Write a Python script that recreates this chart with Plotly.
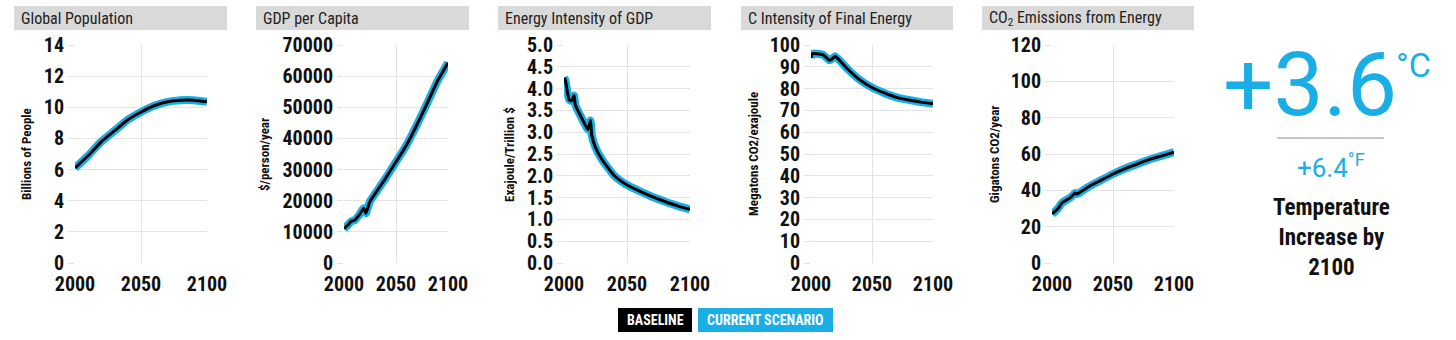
import plotly.graph_objects as go

# ---------------- data ----------------
pop_years = [2000, 2010, 2020, 2030, 2040, 2050, 2060, 2070, 2080, 2090, 2100]
pop_baseline = [6.1, 6.9, 7.8, 8.5, 9.2, 9.7, 10.1, 10.35, 10.45, 10.45, 10.35]
pop_current = [6.1, 6.9, 7.8, 8.5, 9.2, 9.7, 10.1, 10.35, 10.45, 10.45, 10.35]

gdp_years = [2000, 2004, 2007, 2010, 2015, 2019, 2021, 2025, 2030, 2040, 2050, 2060, 2070, 2080, 2090, 2100]
gdp_baseline = [11000, 12300, 13400, 13700, 15600, 17600, 16000, 19800, 22300, 27200, 32500, 37800, 44300, 51300, 58500, 64300]
gdp_current = [11000, 12300, 13400, 13700, 15600, 17600, 16000, 19800, 22300, 27200, 32500, 37800, 44300, 51300, 58500, 64300]

ei_years = [2000, 2001, 2004, 2006, 2008, 2009, 2015, 2019, 2021, 2022, 2025, 2030, 2040, 2050, 2060, 2070, 2080, 2090, 2100]
ei_baseline = [4.25, 4.2, 3.75, 3.72, 3.84, 3.62, 3.27, 3.06, 3.27, 2.93, 2.65, 2.38, 2.0, 1.79, 1.65, 1.52, 1.41, 1.31, 1.23]
ei_current = [4.25, 4.2, 3.75, 3.72, 3.84, 3.62, 3.27, 3.06, 3.27, 2.93, 2.65, 2.38, 2.0, 1.79, 1.65, 1.52, 1.41, 1.31, 1.23]

ci_years = [2000, 2001, 2005, 2010, 2015, 2017, 2019, 2020, 2025, 2030, 2040, 2050, 2060, 2070, 2080, 2090, 2100]
ci_baseline = [94, 96, 96, 95.5, 93, 93.5, 94.5, 94.8, 92, 89, 84, 80.5, 78, 76, 74.8, 73.8, 73]
ci_current = [94, 96, 96, 95.5, 93, 93.5, 94.5, 94.8, 92, 89, 84, 80.5, 78, 76, 74.8, 73.8, 73]

co2_years = [2000, 2005, 2008, 2015, 2019, 2020, 2022, 2030, 2040, 2050, 2060, 2070, 2080, 2090, 2100]
co2_baseline = [27, 30, 33, 36, 38.5, 38, 38.5, 42, 45.5, 49, 52, 54.5, 57, 59, 61]
co2_current = [27, 30, 33, 36, 38.5, 38, 38.5, 42, 45.5, 49, 52, 54.5, 57, 59, 61]

titles = ["Global Population", "GDP per Capita", "Energy Intensity of GDP",
          "C Intensity of Final Energy", "CO<sub>2</sub> Emissions from Energy"]
y_titles = ["Billions of People", "$/person/year", "Exajoule/Trillion $",
            "Megatons CO2/exajoule", "Gigatons CO2/year"]
y_ranges = [[0, 14], [0, 70000], [0, 5], [0, 100], [0, 120]]
y_dticks = [2, 10000, 0.5, 10, 20]
x_ticks = [2000, 2050, 2100]

temp_c = "+3.6"
temp_f = "+6.4"
legend_labels = ["BASELINE", "CURRENT SCENARIO"]

# ---------------- style ----------------
W, H = 1456, 340
BLUE = "#1aaee6"
FONT = "Roboto Condensed, Liberation Sans Narrow, Roboto, sans-serif"
GRID = "#e3e3e3"

panels = [
    (pop_years, pop_baseline, pop_current),
    (gdp_years, gdp_baseline, gdp_current),
    (ei_years, ei_baseline, ei_current),
    (ci_years, ci_baseline, ci_current),
    (co2_years, co2_baseline, co2_current),
]
plot_x = [(75, 207), (344, 448), (564, 690), (811, 933), (1052, 1174)]
title_x = [(14, 227), (256, 469), (498, 711), (741, 953), (982, 1194)]
ytitle_x = [27, 265, 510, 754, 995]
plot_top, plot_bot = 45, 263

def px(x):
    return x / W

def py(y):
    return 1 - y / H

fig = go.Figure()
layout = dict(
    template="none",
    width=W, height=H, margin=dict(l=0, r=0, t=0, b=0, pad=0, autoexpand=False),
    paper_bgcolor="white", plot_bgcolor="white", showlegend=False,
    font=dict(family=FONT, color="#111"),
)
shapes, annotations = [], []

for i, (yrs, base, cur) in enumerate(panels):
    n = "" if i == 0 else str(i + 1)
    xa, ya = "x" + n, "y" + n
    fig.add_trace(go.Scatter(x=yrs, y=cur, mode="lines", xaxis=xa, yaxis=ya,
                             line=dict(color=BLUE, width=8, shape="spline", smoothing=0.5),
                             hoverinfo="skip"))
    fig.add_trace(go.Scatter(x=yrs, y=base, mode="lines", xaxis=xa, yaxis=ya,
                             line=dict(color="black", width=3, shape="spline", smoothing=0.5),
                             hoverinfo="skip"))
    x0, x1 = plot_x[i]
    layout["xaxis" + n] = dict(
        domain=[px(x0), px(x1)], anchor=ya, range=[2000, 2100], automargin=False,
        tickvals=x_ticks, showgrid=True, gridcolor=GRID, gridwidth=1,
        zeroline=False, showline=False, ticks="", fixedrange=True, ticklabelstandoff=7,
        tickfont=dict(size=20, family=FONT, weight="bold", color="#111"),
    )
    layout["yaxis" + n] = dict(
        domain=[py(plot_bot), py(plot_top)], anchor=xa, range=y_ranges[i], automargin=False,
        dtick=y_dticks[i], tick0=0, showgrid=True, gridcolor=GRID, gridwidth=1,
        zeroline=False, showline=False, ticks="outside", ticklen=6, tickcolor=GRID,
        tickformat=".1f" if i == 2 else "d", fixedrange=True,
        tickfont=dict(size=20, family=FONT, weight="bold", color="#111"),
    )
    # title bar
    t0, t1 = title_x[i]
    shapes.append(dict(type="rect", xref="paper", yref="paper",
                       x0=px(t0), x1=px(t1), y0=py(30), y1=py(6),
                       fillcolor="#d9d9d9", line=dict(width=0), layer="below"))
    annotations.append(dict(text=titles[i], xref="paper", yref="paper",
                            x=px(t0 + 5), y=py(18), xanchor="left", yanchor="middle",
                            showarrow=False, font=dict(size=16, family=FONT, color="#222")))
    annotations.append(dict(text=y_titles[i], xref="paper", yref="paper",
                            x=px(ytitle_x[i]), y=py(154), xanchor="center", yanchor="middle",
                            textangle=-90, showarrow=False,
                            font=dict(size=13, family=FONT, weight="bold", color="#111")))

# right-hand temperature block
annotations.append(dict(text=temp_c, xref="paper", yref="paper", x=px(1310), y=py(84),
                        xanchor="center", yanchor="middle", showarrow=False,
                        font=dict(size=89, family="Roboto, sans-serif", color=BLUE)))
annotations.append(dict(text="°C", xref="paper", yref="paper", x=px(1413), y=py(65),
                        xanchor="center", yanchor="middle", showarrow=False,
                        font=dict(size=34, family="Roboto, sans-serif", color=BLUE)))
shapes.append(dict(type="line", xref="paper", yref="paper", x0=px(1277), x1=px(1384),
                   y0=py(138), y1=py(138), line=dict(color="#8a8a8a", width=1)))
annotations.append(dict(text=temp_f + "<sup>°F</sup>", xref="paper", yref="paper",
                        x=px(1331), y=py(166), xanchor="center", yanchor="middle",
                        showarrow=False,
                        font=dict(size=26, family="Roboto, sans-serif", color=BLUE)))
annotations.append(dict(text="Temperature<br>Increase by<br>2100", xref="paper", yref="paper",
                        x=px(1331), y=py(238), xanchor="center", yanchor="middle",
                        showarrow=False,
                        font=dict(size=23, family=FONT, weight="bold", color="#111")))

# legend
leg_boxes = [(618, 692, "black"), (698, 833, BLUE)]
for (b0, b1, col), lab in zip(leg_boxes, legend_labels):
    shapes.append(dict(type="rect", xref="paper", yref="paper", x0=px(b0), x1=px(b1),
                       y0=py(332), y1=py(308), fillcolor=col, line=dict(width=0)))
    annotations.append(dict(text=lab, xref="paper", yref="paper", x=px((b0 + b1) / 2),
                            y=py(320), xanchor="center", yanchor="middle", showarrow=False,
                            font=dict(size=14, family=FONT, weight="bold", color="white")))

layout["shapes"] = shapes
layout["annotations"] = annotations
fig.update_layout(**layout)
fig.write_html("out.html", config={"displayModeBar": False})
